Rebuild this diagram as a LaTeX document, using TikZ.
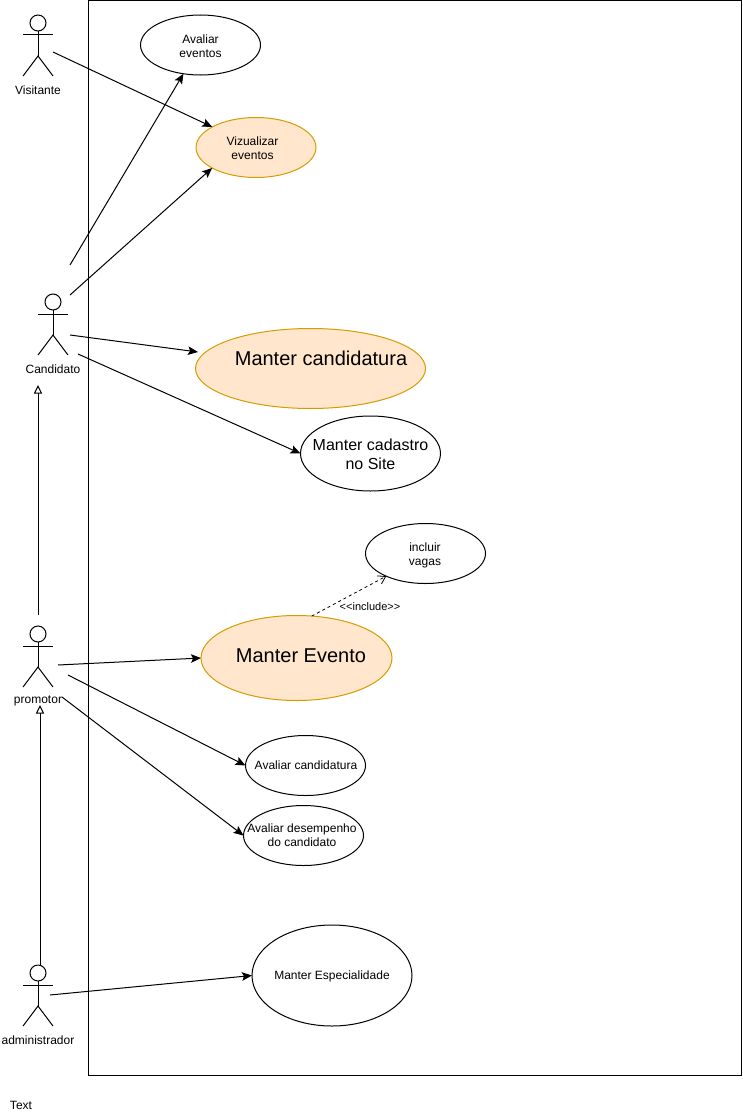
\documentclass[tikz,border=0pt]{standalone}
\usepackage{fontspec}
\setmainfont{Liberation Sans}
\usetikzlibrary{shapes.geometric,arrows.meta}
\definecolor{ucfill}{HTML}{FFE6CC}
\definecolor{ucline}{HTML}{D79B00}
\tikzset{
  uc/.style={ellipse,draw=black,fill=white,line width=1pt,inner sep=0pt,outer sep=0pt,
    minimum width=#1},
  uchl/.style={draw=ucline,fill=ucfill},
  txt/.style={inner sep=0pt,outer sep=0pt,align=center,font=\fontsize{#1}{\the\numexpr#1*6/5\relax}\selectfont},
  actorline/.style={draw=black,line width=1pt},
  assoc/.style={draw=black,line width=1pt,-{Stealth[length=10pt,width=8.5pt,inset=2pt]}},
  gen/.style={draw=black,line width=1pt,-{Triangle[open,length=8.5pt,width=8pt,fill=white]}},
  incl/.style={draw=black,line width=.8pt,dashed,dash pattern=on 3pt off 3pt,-{Straight Barb[length=7pt,width=9pt]}}
}
% name, x, y of head centre, label
\newcommand{\actorfig}[4]{%
  \node[circle,actorline,minimum size=16pt,inner sep=0pt,outer sep=0pt] (#1head) at (#2,#3) {};
  \coordinate (#1hip) at (#2,#3+33);
  \coordinate (#1armL) at (#2-15,#3+12);
  \coordinate (#1armR) at (#2+15,#3+12);
  \coordinate (#1legL) at (#2-15,#3+53);
  \coordinate (#1legR) at (#2+15,#3+53);
  \draw[actorline] (#1head.south) -- (#1hip);
  \draw[actorline] (#1armL) -- (#1armR);
  \draw[actorline] (#1legL) -- (#1hip) -- (#1legR);
  \node[txt=12] (#1label) at (#2,#3+67) {#4};
}
\begin{document}
\begin{tikzpicture}[x=1pt,y=-1pt]
\useasboundingbox (0,0) rectangle (742,1116);
\fill[white] (0,0) rectangle (742,1116);
\coordinate (frameA) at (88.5,0.5);
\coordinate (frameB) at (741,1075.5);
\draw[black,line width=1pt] (frameA) rectangle (frameB);

\actorfig{vis}{38}{23}{Visitante}
\actorfig{cand}{53}{302}{Candidato}
\actorfig{prom}{38}{634}{promotor}
\actorfig{adm}{38}{973}{administrador}

\node[uc=120pt,minimum height=60pt] (ae) at (200.5,45) {};
\node[txt=12] (aeT) at (200.5,46) {Avaliar\\eventos};
\node[uc=120pt,minimum height=60pt,uchl] (ve) at (256,147.5) {};
\node[txt=12] (veT) at (252.5,148) {Vizualizar\\eventos};
\node[uc=230pt,minimum height=80pt,uchl] (mc) at (310.5,368.5) {};
\node[txt=20] (mcT) at (321,358) {Manter candidatura};
\node[uc=140pt,minimum height=75pt] (mk) at (370.5,453.5) {};
\node[txt=16] (mkT) at (370.5,454) {Manter cadastro\\no Site};
\node[uc=120pt,minimum height=60pt] (iv) at (425.5,553.5) {};
\node[txt=12] (ivT) at (425,555) {incluir\\vagas};
\node[uc=191pt,minimum height=85pt,uchl] (me) at (296.5,658) {};
\node[txt=20] (meT) at (301,656) {Manter Evento};
\node[uc=120pt,minimum height=60pt] (ac) at (305.5,765.5) {};
\node[txt=12] (acT) at (306,765) {Avaliar candidatura};
\node[uc=120pt,minimum height=60pt] (ad) at (303.5,835.5) {};
\node[txt=12] (adT) at (302,835.5) {Avaliar desempenho\\do candidato};
\node[uc=160pt,minimum height=101pt] (ms) at (332,975.5) {};
\node[txt=12] (msT) at (332,976) {Manter Especialidade};

\coordinate (pVis) at (53,52);
\coordinate (pC1) at (70,265);
\coordinate (pC2) at (70,295);
\coordinate (pC3) at (70,335);
\coordinate (qMC) at (198,352);
\coordinate (pC4) at (78,354);
\coordinate (pP0) at (38,615);
\coordinate (qC) at (38,385);
\coordinate (pP1) at (58,665);
\coordinate (pP2) at (68,675);
\coordinate (pP3) at (62,697);
\coordinate (pA0) at (40,965);
\coordinate (qP) at (40,705);
\coordinate (pA1) at (50,995);

\draw[assoc] (pVis) -- (ve);
\draw[assoc] (pC1) -- (ae);
\draw[assoc] (pC2) -- (ve.205);
\draw[assoc] (pC3) -- (qMC);
\draw[assoc] (pC4) -- (mk.west);
\draw[gen] (pP0) -- (qC);
\draw[assoc] (pP1) -- (me.west);
\draw[assoc] (pP2) -- (ac.west);
\draw[assoc] (pP3) -- (ad.west);
\draw[gen] (pA0) -- (qP);
\draw[assoc] (pA1) -- (ms.west);
\draw[incl] (me.70) -- (iv.210);
\node[txt=11] (inclT) at (370,607) {<{}<include>{}>};
\node[txt=12] (tT) at (21,1105) {Text};
\end{tikzpicture}
\end{document}
